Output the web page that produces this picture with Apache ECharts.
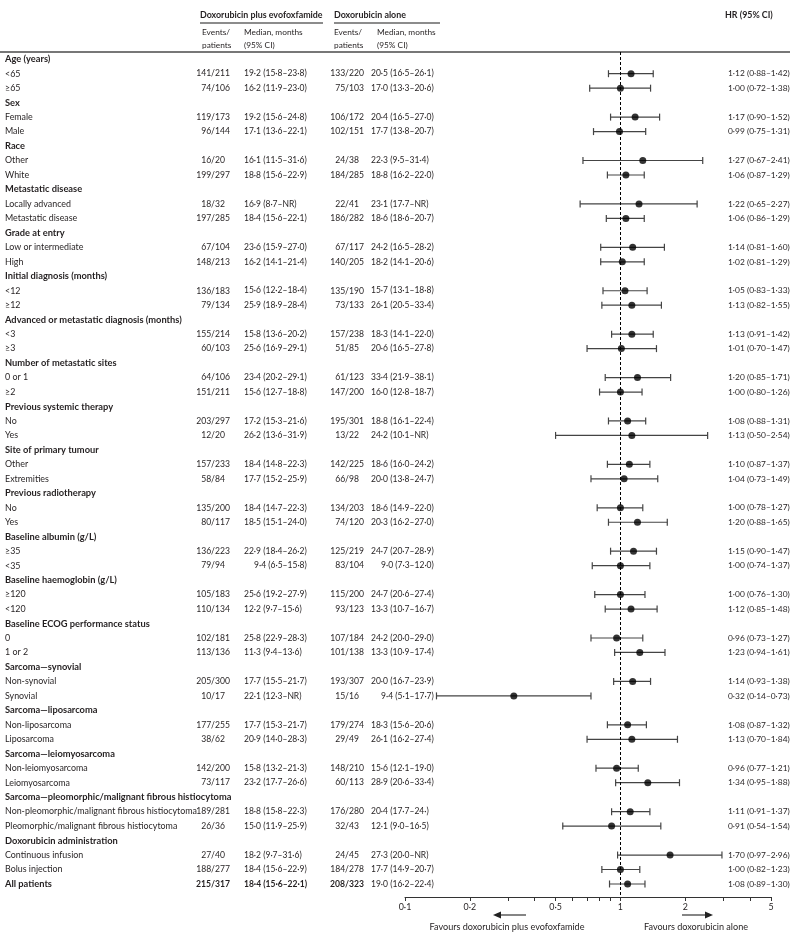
<!DOCTYPE html>
<html><head><meta charset="utf-8">
<script src="https://cdn.jsdelivr.net/npm/echarts@6/dist/echarts.min.js"></script>
<style>html,body{margin:0;padding:0;background:#fff}#c{width:800px;height:941px}</style>
</head><body><div id="c"></div><script>
const FONT = "Lato,'Noto Sans',sans-serif";
const TXT = '#231f20';

const groupTitles = [
  'Age (years)', 'Sex', 'Race', 'Metastatic disease', 'Grade at entry',
  'Initial diagnosis (months)', 'Advanced or metastatic diagnosis (months)',
  'Number of metastatic sites', 'Previous systemic therapy', 'Site of primary tumour',
  'Previous radiotherapy', 'Baseline albumin (g/L)', 'Baseline haemoglobin (g/L)',
  'Baseline ECOG performance status', 'Sarcoma—synovial', 'Sarcoma—liposarcoma',
  'Sarcoma—leiomyosarcoma', 'Sarcoma—pleomorphic/malignant fibrous histiocytoma',
  'Doxorubicin administration'
];
const subgroupLabels = [
  '<65', '≥65', 'Female', 'Male', 'Other', 'White', 'Locally advanced', 'Metastatic disease',
  'Low or intermediate', 'High', '<12', '≥12', '<3', '≥3', '0 or 1', '≥2', 'No', 'Yes',
  'Other', 'Extremities', 'No', 'Yes', '≥35', '<35', '≥120', '<120', '0', '1 or 2',
  'Non-synovial', 'Synovial', 'Non-liposarcoma', 'Liposarcoma', 'Non-leiomyosarcoma',
  'Leiomyosarcoma', 'Non-pleomorphic/malignant fibrous histiocytoma',
  'Pleomorphic/malignant fibrous histiocytoma', 'Continuous infusion', 'Bolus injection',
  'All patients'
];
const eventsPlus = [
  '141/211', '74/106', '119/173', '96/144', '16/20', '199/297', '18/32', '197/285',
  '67/104', '148/213', '136/183', '79/134', '155/214', '60/103', '64/106', '151/211',
  '203/297', '12/20', '157/233', '58/84', '135/200', '80/117', '136/223', '79/94',
  '105/183', '110/134', '102/181', '113/136', '205/300', '10/17', '177/255', '38/62',
  '142/200', '73/117', '189/281', '26/36', '27/40', '188/277', '215/317'
];
const medianPlus = [
  '19·2 (15·8–23·8)', '16·2 (11·9–23·0)', '19·2 (15·6–24·8)', '17·1 (13·6–22·1)',
  '16·1 (11·5–31·6)', '18·8 (15·6–22·9)', '16·9 (8·7–NR)', '18·4 (15·6–22·1)',
  '23·6 (15·9–27·0)', '16·2 (14·1–21·4)', '15·6 (12·2–18·4)', '25·9 (18·9–28·4)',
  '15·8 (13·6–20·2)', '25·6 (16·9–29·1)', '23·4 (20·2–29·1)', '15·6 (12·7–18·8)',
  '17·2 (15·3–21·6)', '26·2 (13·6–31·9)', '18·4 (14·8–22·3)', '17·7 (15·2–25·9)',
  '18·4 (14·7–22·3)', '18·5 (15·1–24·0)', '22·9 (18·4–26·2)', '9·4 (6·5–15·8)',
  '25·6 (19·2–27·9)', '12·2 (9·7–15·6)', '25·8 (22·9–28·3)', '11·3 (9·4–13·6)',
  '17·7 (15·5–21·7)', '22·1 (12·3–NR)', '17·7 (15·3–21·7)', '20·9 (14·0–28·3)',
  '15·8 (13·2–21·3)', '23·2 (17·7–26·6)', '18·8 (15·8–22·3)', '15·0 (11·9–25·9)',
  '18·2 (9·7–31·6)', '18·4 (15·6–22·9)', '18·4 (15·6–22·1)'
];
const eventsAlone = [
  '133/220', '75/103', '106/172', '102/151', '24/38', '184/285', '22/41', '186/282',
  '67/117', '140/205', '135/190', '73/133', '157/238', '51/85', '61/123', '147/200',
  '195/301', '13/22', '142/225', '66/98', '134/203', '74/120', '125/219', '83/104',
  '115/200', '93/123', '107/184', '101/138', '193/307', '15/16', '179/274', '29/49',
  '148/210', '60/113', '176/280', '32/43', '24/45', '184/278', '208/323'
];
const medianAlone = [
  '20·5 (16·5–26·1)', '17·0 (13·3–20·6)', '20·4 (16·5–27·0)', '17·7 (13·8–20·7)',
  '22·3 (9·5–31·4)', '18·8 (16·2–22·0)', '23·1 (17·7–NR)', '18·6 (18·6–20·7)',
  '24·2 (16·5–28·2)', '18·2 (14·1–20·6)', '15·7 (13·1–18·8)', '26·1 (20·5–33·4)',
  '18·3 (14·1–22·0)', '20·6 (16·5–27·8)', '33·4 (21·9–38·1)', '16·0 (12·8–18·7)',
  '18·8 (16·1–22·4)', '24·2 (10·1–NR)', '18·6 (16·0–24·2)', '20·0 (13·8–24·7)',
  '18·6 (14·9–22·0)', '20·3 (16·2–27·0)', '24·7 (20·7–28·9)', '9·0 (7·3–12·0)',
  '24·7 (20·6–27·4)', '13·3 (10·7–16·7)', '24·2 (20·0–29·0)', '13·3 (10·9–17·4)',
  '20·0 (16·7–23·9)', '9·4 (5·1–17·7)', '18·3 (15·6–20·6)', '26·1 (16·2–27·4)',
  '15·6 (12·1–19·0)', '28·9 (20·6–33·4)', '20·4 (17·7–24·)', '12·1 (9·0–16·5)',
  '27·3 (20·0–NR)', '17·7 (14·9–20·7)', '19·0 (16·2–22·4)'
];
const hr = [
  1.12, 1.00, 1.17, 0.99, 1.27, 1.06, 1.22, 1.06, 1.14, 1.02, 1.05, 1.13, 1.13, 1.01,
  1.20, 1.00, 1.08, 1.13, 1.10, 1.04, 1.00, 1.20, 1.15, 1.00, 1.00, 1.12, 0.96, 1.23,
  1.14, 0.32, 1.08, 1.13, 0.96, 1.34, 1.11, 0.91, 1.70, 1.00, 1.08
];
const hrLow = [
  0.88, 0.72, 0.90, 0.75, 0.67, 0.87, 0.65, 0.86, 0.81, 0.81, 0.83, 0.82, 0.91, 0.70,
  0.85, 0.80, 0.88, 0.50, 0.87, 0.73, 0.78, 0.88, 0.90, 0.74, 0.76, 0.85, 0.73, 0.94,
  0.93, 0.14, 0.87, 0.70, 0.77, 0.95, 0.91, 0.54, 0.97, 0.82, 0.89
];
const hrHigh = [
  1.42, 1.38, 1.52, 1.31, 2.41, 1.29, 2.27, 1.29, 1.60, 1.29, 1.33, 1.55, 1.42, 1.47,
  1.71, 1.26, 1.31, 2.54, 1.37, 1.49, 1.27, 1.65, 1.47, 1.37, 1.30, 1.48, 1.27, 1.61,
  1.38, 0.73, 1.32, 1.84, 1.21, 1.88, 1.37, 1.54, 2.96, 1.23, 1.30
];
const axisTickValues = [0.1, 0.2, 0.3, 0.4, 0.5, 0.6, 0.7, 0.8, 0.9, 1, 2, 3, 4, 5];
const axisLabelValues = [0.1, 0.2, 0.5, 1, 2, 5];

// --- font sizing: fit sample strings to the widths measured in the reference ---
const mctx = document.createElement('canvas').getContext('2d');
function fit(sample, bold, target) {
  mctx.font = (bold ? 'bold ' : '') + '100px ' + FONT;
  const s = 100 * target / mctx.measureText(sample).width;
  return Math.max(8, Math.min(11.5, Math.round(s * 10) / 10));
}
const FS_LABEL = fit('Non-pleomorphic/malignant fibrous histiocytoma', false, 192);
const FS_HEAD = fit('Advanced or metastatic diagnosis (months)', true, 177);
const FS_EV = fit('141/211', false, 34);
const FS_MED = fit('19·2 (15·8–23·8)', false, 63);
const FS_HR = fit('1·12 (0·88–1·42)', false, 62);
const FS_COLHEAD = fit('Doxorubicin plus evofoxfamide', true, 123);
const FS_COLSUB = fit('Median, months', false, 59);
const FS_FAV = fit('Favours doxorubicin plus evofoxfamide', false, 155);
const f = (size, bold) => (bold ? 'bold ' : '') + size + 'px ' + FONT;

const NROWS = groupTitles.length * 3 + 1;
function rowOf(i) { return i === subgroupLabels.length - 1 ? NROWS - 1 : Math.floor(i / 2) * 3 + 1 + (i % 2); }
const fmt = v => v.toFixed(2).replace('.', '·');
const indent = s => (/^\d·/.test(s) ? 10 : 0);   // single-digit medians are set in by the typesetter

const tableRows = [];
groupTitles.forEach((t, g) => tableRows.push({ row: g * 3, kind: 'head', idx: g }));
subgroupLabels.forEach((t, i) => tableRows.push({ row: rowOf(i), kind: 'sub', idx: i }));

const X = { label: 5, slashPlus: 215, medPlus: 244, slashAlone: 349, medAlone: 371, hr: 728 };
function tx(x, y, text, align, font) {
  return { type: 'text', x: x, y: y, style: { text: text, fill: TXT, font: font, textAlign: align, textVerticalAlign: 'middle' } };
}
function renderTable(params, api) {
  const r = tableRows[params.dataIndex];
  const y = api.coord([1, r.row])[1];
  if (r.kind === 'head') return { type: 'group', children: [tx(X.label, y, groupTitles[r.idx], 'left', f(FS_HEAD, true))] };
  const i = r.idx;
  const bold = i === subgroupLabels.length - 1;
  const ep = eventsPlus[i].split('/'), ea = eventsAlone[i].split('/');
  return { type: 'group', children: [
    tx(X.label, y, subgroupLabels[i], 'left', bold ? f(FS_HEAD, true) : f(FS_LABEL)),
    tx(X.slashPlus, y, ep[0] + '/', 'right', f(FS_EV, bold)), tx(X.slashPlus, y, ep[1], 'left', f(FS_EV, bold)),
    tx(X.medPlus + indent(medianPlus[i]), y, medianPlus[i], 'left', f(FS_MED, bold)),
    tx(X.slashAlone, y, ea[0] + '/', 'right', f(FS_EV, bold)), tx(X.slashAlone, y, ea[1], 'left', f(FS_EV, bold)),
    tx(X.medAlone + indent(medianAlone[i]), y, medianAlone[i], 'left', f(FS_MED)),
    tx(X.hr, y, fmt(hr[i]) + ' (' + fmt(hrLow[i]) + '–' + fmt(hrHigh[i]) + ')', 'left', f(FS_HR))
  ]};
}
function renderCI(params, api) {
  const row = api.value(2);
  const a = api.coord([api.value(0), row]);
  const b = api.coord([api.value(1), row]);
  const st = { stroke: '#444', lineWidth: 1.2 };
  return { type: 'group', children: [
    { type: 'line', shape: { x1: a[0], y1: a[1], x2: b[0], y2: b[1] }, style: st },
    { type: 'line', shape: { x1: a[0], y1: a[1] - 3.5, x2: a[0], y2: a[1] + 3.5 }, style: st },
    { type: 'line', shape: { x1: b[0], y1: b[1] - 3.5, x2: b[0], y2: b[1] + 3.5 }, style: st }
  ]};
}

const chart = echarts.init(document.getElementById('c'), null, { renderer: 'canvas' });
function gtext(x, y, text, font, align) {
  return { type: 'text', x: x, y: y, style: { text: text, font: font, fill: TXT, textAlign: align || 'left', textVerticalAlign: 'middle' } };
}
chart.setOption({
  animation: false,
  grid: { left: 405, right: 29, top: 52, bottom: 44 },
  xAxis: {
    type: 'log', logBase: 10, min: 0.1, max: 5,
    axisLine: { show: true, onZero: false, lineStyle: { color: '#333', width: 1 } },
    axisTick: { show: true, length: 4, inside: false, lineStyle: { color: '#333' }, customValues: axisTickValues },
    axisLabel: { customValues: axisLabelValues, margin: 6, fontSize: FS_LABEL, fontFamily: FONT, color: TXT,
      formatter: v => String(Number(Number(v).toPrecision(3))).replace('.', '·') },
    splitLine: { show: false }, minorTick: { show: false }
  },
  yAxis: { type: 'value', inverse: true, min: -0.5, max: NROWS - 0.1, show: false },
  series: [
    { type: 'custom', clip: false, renderItem: renderTable, data: tableRows.map(r => [1, r.row]), silent: true, z: 5 },
    { type: 'custom', clip: false, renderItem: renderCI, data: hr.map((v, i) => [hrLow[i], hrHigh[i], rowOf(i)]), silent: true, z: 3 },
    { type: 'scatter', data: hr.map((v, i) => [v, rowOf(i)]), symbol: 'circle', symbolSize: 7,
      itemStyle: { color: '#000' }, silent: true, z: 4,
      markLine: { silent: true, symbol: 'none', label: { show: false }, lineStyle: { type: [3, 2], color: '#000', width: 1 }, data: [{ xAxis: 1 }] } }
  ],
  graphic: [
    gtext(200, 15, 'Doxorubicin plus evofoxfamide', f(FS_COLHEAD, true)),
    { type: 'line', shape: { x1: 200, y1: 23, x2: 323, y2: 23 }, style: { stroke: '#666', lineWidth: 1.5 } },
    gtext(334, 15, 'Doxorubicin alone', f(FS_COLHEAD, true)),
    { type: 'line', shape: { x1: 334, y1: 23, x2: 440, y2: 23 }, style: { stroke: '#666', lineWidth: 1.5 } },
    gtext(202, 32, 'Events/', f(FS_COLSUB)), gtext(202, 45, 'patients', f(FS_COLSUB)),
    gtext(244, 32, 'Median, months', f(FS_COLSUB)), gtext(244, 45, '(95% CI)', f(FS_COLSUB)),
    gtext(334, 32, 'Events/', f(FS_COLSUB)), gtext(334, 45, 'patients', f(FS_COLSUB)),
    gtext(377, 32, 'Median, months', f(FS_COLSUB)), gtext(377, 45, '(95% CI)', f(FS_COLSUB)),
    gtext(725, 15, 'HR (95% CI)', f(FS_COLHEAD, true)),
    { type: 'line', shape: { x1: 0, y1: 52, x2: 790, y2: 52 }, style: { stroke: '#777', lineWidth: 2 } },
    { type: 'line', shape: { x1: 500, y1: 915, x2: 526, y2: 915 }, style: { stroke: '#333', lineWidth: 1.2 } },
    { type: 'polygon', shape: { points: [[493, 915], [501, 911.5], [501, 918.5]] }, style: { fill: '#222' } },
    { type: 'line', shape: { x1: 682, y1: 915, x2: 706, y2: 915 }, style: { stroke: '#333', lineWidth: 1.2 } },
    { type: 'polygon', shape: { points: [[713, 915], [705, 911.5], [705, 918.5]] }, style: { fill: '#222' } },
    gtext(507, 927, 'Favours doxorubicin plus evofoxfamide', f(FS_FAV), 'center'),
    gtext(696, 927, 'Favours doxorubicin alone', f(FS_FAV), 'center')
  ]
});
</script></body></html>
